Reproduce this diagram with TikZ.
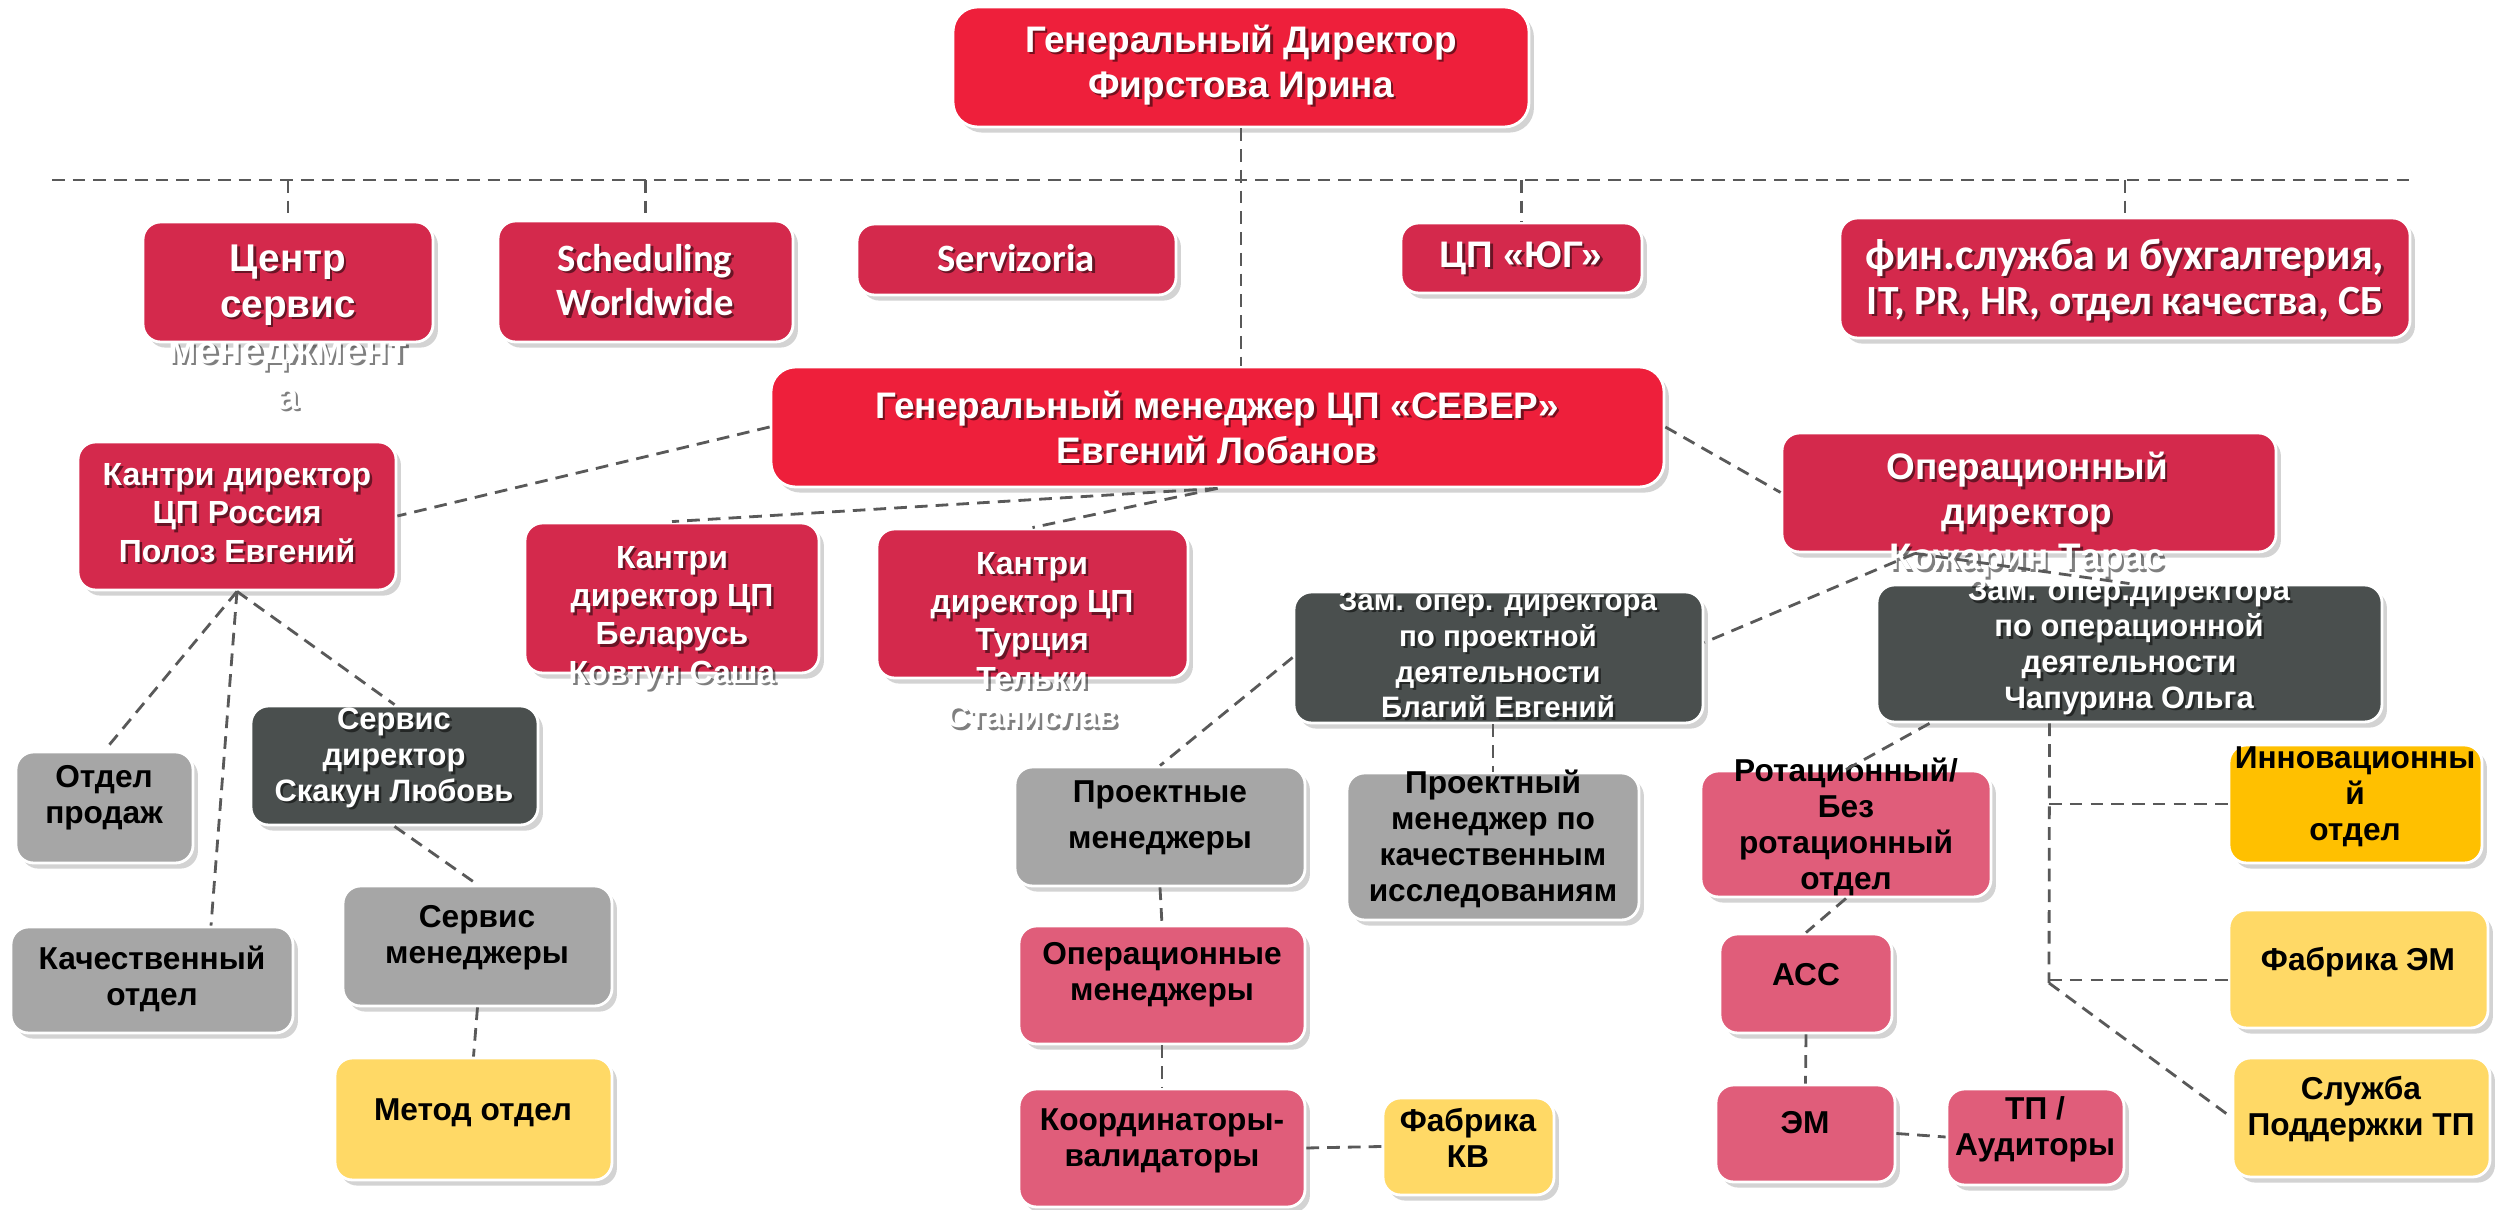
\documentclass[tikz,border=0pt]{standalone}
\usepackage{fontspec}
\setmainfont{Liberation Sans}
\newfontfamily\calib{Carlito}
\usetikzlibrary{shadows,calc,fit}
\definecolor{cred}{HTML}{EE1F3B}
\definecolor{ccrim}{HTML}{D4294C}
\definecolor{cdark}{HTML}{4A4F4E}
\definecolor{cgray}{HTML}{A6A6A6}
\definecolor{cpink}{HTML}{E05D7A}
\definecolor{cyel}{HTML}{FFD966}
\definecolor{corg}{HTML}{FFC000}
\definecolor{cline}{HTML}{595959}
\tikzset{
  box/.style={draw=white, line width=0.8pt, rounded corners=5pt, inner sep=0pt,
    drop shadow={shadow xshift=1.4pt, shadow yshift=-1.6pt, opacity=0.35}},
  bigbox/.style={box, rounded corners=7pt},
  conn/.style={draw=cline, line width=0.8pt, dash pattern=on 3.6pt off 2.3pt},
  wt/.style={text=white, align=center, inner sep=0pt},
  wsh/.style={text=black, opacity=0.5, align=center, inner sep=0pt},
  bt/.style={text=black, align=center, inner sep=0pt},
  fbig/.style={font=\fontsize{10.5}{12.8}\selectfont\bfseries},
  fmid/.style={font=\fontsize{9.1}{10.9}\selectfont\bfseries},
  fsm/.style={font=\fontsize{8.8}{10.2}\selectfont\bfseries},
  fblk/.style={font=\fontsize{9}{10.3}\selectfont\bfseries},
  fcal/.style={font=\calib\fontsize{11}{12.7}\selectfont\bfseries},
}
\newcommand\wl[4]{%
  \node[wsh,#3] (#1s) at ($#2+(2.5,2.5)$) {#4};
  \node[wt,#3] (#1) at #2 {#4};}
\begin{document}
\begin{tikzpicture}[x=0.01cm,y=-0.01cm]
\useasboundingbox (0,0) rectangle (2496,1210);
% ---------- boxes ----------
\node[bigbox, fill=cred,  fit={(953,7)(1529,127)}]   (gd)   {};
\node[box, fill=ccrim, fit={(143,222)(433,342)}]     (csm)  {};
\node[box, fill=ccrim, fit={(498,221)(793,342)}]     (sw)   {};
\node[box, fill=ccrim, fit={(857,224)(1176,295)}]    (serv) {};
\node[box, fill=ccrim, fit={(1401,223)(1642,293)}]   (yug)  {};
\node[box, fill=ccrim, fit={(1840,218)(2410,338)}]   (fin)  {};
\node[bigbox, fill=cred,  fit={(771,367)(1664,487)}] (sev)  {};
\node[box, fill=ccrim, fit={(78,442)(396,590)}]      (rus)  {};
\node[box, fill=ccrim, fit={(525,523)(819,673)}]     (bel)  {};
\node[box, fill=ccrim, fit={(877,529)(1188,678)}]    (tur)  {};
\node[box, fill=ccrim, fit={(1782,433)(2276,552)}]   (od)   {};
\node[box, fill=cdark, fit={(1294,592)(1703,723)}]   (zp)   {};
\node[box, fill=cdark, fit={(1877,585)(2382,722)}]   (chap) {};
\node[box, fill=cdark, fit={(251,706)(538,825)}]     (sd)   {};
\node[box, fill=cgray, fit={(16,752)(193,863)}]      (otd)  {};
\node[box, fill=cgray, fit={(11,927)(293,1033)}]     (kach) {};
\node[box, fill=cgray, fit={(343,886)(612,1006)}]    (sm)   {};
\node[box, fill=cyel,  fit={(335,1058)(612,1180)}]   (met)  {};
\node[box, fill=cgray, fit={(1015,767)(1305,886)}]   (pm)   {};
\node[box, fill=cgray, fit={(1347,773)(1639,920)}]   (pmk)  {};
\node[box, fill=cpink, fit={(1019,926)(1305,1044)}]  (om)   {};
\node[box, fill=cpink, fit={(1019,1089)(1305,1207)}] (kv)   {};
\node[box, fill=cyel,  fit={(1383,1098)(1554,1195)}] (fkv)  {};
\node[box, fill=cpink, fit={(1701,771)(1991,897)}]   (rot)  {};
\node[box, fill=cpink, fit={(1720,934)(1892,1033)}]  (acc)  {};
\node[box, fill=cpink, fit={(1716,1085)(1895,1182)}] (em)   {};
\node[box, fill=cpink, fit={(1947,1089)(2124,1185)}] (tp)   {};
\node[box, fill=corg,  fit={(2229,745)(2482,863)}]   (inn)  {};
\node[box, fill=cyel,  fit={(2229,910)(2488,1028)}]  (fem)  {};
\node[box, fill=cyel,  fit={(2233,1058)(2490,1177)}] (sl)   {};
% ---------- texts ----------
\wl{tgd}{(1241,65)}{fbig}{Генеральный Директор\\Фирстова Ирина}
\wl{tcsm}{(288,327)}{font=\fontsize{11}{13.1}\selectfont\bfseries}{Центр\\сервис\\менеджмент\\а}
\wl{tsw}{(645,280)}{fcal}{Scheduling\\Worldwide}
\wl{tserv}{(1016,258)}{fcal}{Servizoria}
\wl{tyug}{(1521,258)}{font=\fontsize{10.5}{12}\selectfont\bfseries}{ЦП «ЮГ»}
\wl{tfin}{(2125,280)}{font=\calib\fontsize{12.5}{12.7}\selectfont\bfseries}{фин.служба и бухгалтерия,\\\fontsize{11.8}{12.7}\selectfont IT, PR, HR, отдел качества, СБ}
\wl{tsev}{(1217,427)}{fbig}{Генеральный менеджер ЦП «СЕВЕР»\\Евгений Лобанов}
\wl{trus}{(237,513)}{fmid}{Кантри директор\\ЦП Россия\\Полоз Евгений}
\wl{tbel}{(672,618)}{fmid}{Кантри\\директор ЦП\\Беларусь\\Ковтун Саша}
\wl{ttur}{(1032,640)}{fmid}{Кантри\\директор ЦП\\Турция\\Тельки\\Станислав}
\wl{tod}{(2027,515)}{fbig}{Операционный\\директор\\Кожарин Тарас}
\wl{tzp}{(1498,654)}{font=\fontsize{8.4}{10.2}\selectfont\bfseries}{Зам. опер. директора\\по проектной\\деятельности\\Благий Евгений}
\wl{tchap}{(2129,647)}{fsm}{Зам. опер.директора\\по операционной\\деятельности\\Чапурина Ольга}
\wl{tsd}{(394,758)}{fsm}{Сервис\\директор\\Скакун Любовь}
\node[bt,fblk] (totd) at (104,798) {Отдел\\продаж};
\node[bt,fblk] (tkach) at (152,979) {Качественный\\отдел};
\node[bt,fblk] (tsm) at (477,938) {Сервис\\менеджеры};
\node[bt,fblk] (tmet) at (473,1113) {Метод отдел};
\node[bt,font=\fontsize{9}{13.2}\selectfont\bfseries] (tpm) at (1160,818) {Проектные\\менеджеры};
\node[bt,fblk] (tpmk) at (1493,839) {Проектный\\менеджер по\\качественным\\исследованиям};
\node[bt,fblk] (tom) at (1162,975) {Операционные\\менеджеры};
\node[bt,fblk] (tkv) at (1162,1141) {Координаторы-\\валидаторы};
\node[bt,fblk] (tfkv) at (1468,1138) {Фабрика\\КВ};
\node[bt,fblk] (trot) at (1846,827) {Ротационный/\\Без\\ротационный\\отдел};
\node[bt,fblk] (tacc) at (1806,975) {АСС};
\node[bt,fblk] (tem) at (1805,1123) {ЭМ};
\node[bt,fblk] (ttp) at (2035,1129) {ТП /\\Аудиторы};
\node[bt,fblk] (tinn) at (2355,797) {Инновационны\\й\\отдел};
\node[bt,fblk] (tfem) at (2358,962) {Фабрика ЭМ};
\node[bt,fblk] (tsl) at (2361,1109) {Служба\\Поддержки ТП};
% ---------- connectors ----------
\coordinate (hl) at (52,180);
\coordinate (hr) at (2414,180);
\draw[conn] (hl) -- (hr);
\draw[conn] (gd.south) -- (gd.south |- sev.north);
\draw[conn] (csm.north |- hl) -- (csm.north);
\draw[conn] (sw.north |- hl) -- (sw.north);
\draw[conn] ($(serv.north)+(20,0)$ |- hl) -- ($(serv.north)+(20,0)$);
\draw[conn] (yug.north |- hl) -- (yug.north);
\draw[conn] (fin.north |- hl) -- (fin.north);
\draw[conn] (sev.west) -- (rus.east);
\draw[conn] (sev.south) -- (bel.north);
\draw[conn] (sev.south) -- (tur.north);
\draw[conn] (sev.east) -- (od.west);
\coordinate (odp) at ($(od.south)+(-114,0)$);
\draw[conn] (odp) -- ($(zp.east)+(0,-15)$);
\draw[conn] (odp) -- (chap.north);
\draw[conn] (zp.west) -- (pm.north);
\draw[conn] (pmk.north |- zp.south) -- (pmk.north);
\draw[conn] (pm.south) -- (om.north);
\draw[conn] (om.south) -- (kv.north);
\draw[conn] (kv.east) -- (fkv.west);
\draw[conn] ($(chap.south)+(-200,0)$) -- (rot.north);
\draw[conn] (rot.south) -- (acc.north);
\draw[conn] (acc.south) -- (em.north);
\draw[conn] (em.east) -- (tp.west);
\coordinate (tr) at (2049,983);
\draw[conn] ($(chap.south)+(-80,0)$) -- (tr);
\draw[conn] (tr |- inn.west) -- (inn.west);
\draw[conn] (tr |- 0,980) -- ($(fem.west)+(0,11)$);
\draw[conn] (tr) -- (sl.west);
\draw[conn] (rus.south) -- (otd.north);
\draw[conn] (rus.south) -- ($(kach.north)+(59,0)$);
\draw[conn] (rus.south) -- (sd.north);
\draw[conn] (sd.south) -- (sm.north);
\draw[conn] (sm.south) -- (met.north);
\end{tikzpicture}
\end{document}
